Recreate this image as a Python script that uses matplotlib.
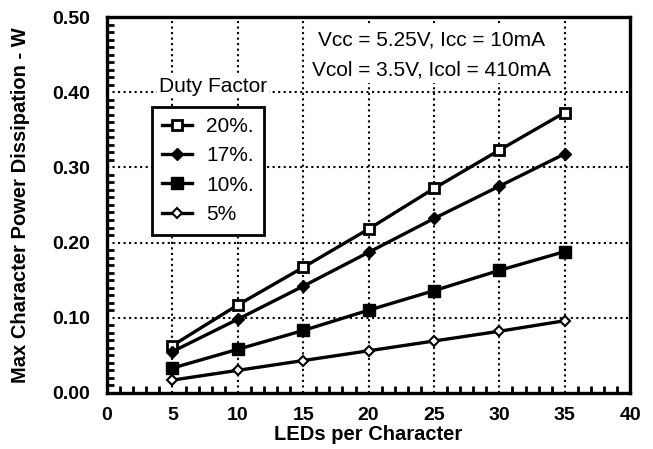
import matplotlib
matplotlib.use("Agg")
import matplotlib.pyplot as plt
from matplotlib.ticker import MultipleLocator

plt.rcParams["font.family"] = ["Liberation Sans", "DejaVu Sans"]
plt.rcParams["font.weight"] = "bold"

leds = [5, 10, 15, 20, 25, 30, 35]
duty_20 = [0.063, 0.117, 0.167, 0.218, 0.272, 0.323, 0.373]
duty_17 = [0.055, 0.098, 0.142, 0.187, 0.232, 0.275, 0.318]
duty_10 = [0.033, 0.058, 0.083, 0.110, 0.136, 0.163, 0.188]
duty_5 = [0.017, 0.030, 0.043, 0.056, 0.069, 0.082, 0.096]
labels = ["20%.", "17%.", "10%.", "5%"]

fig = plt.figure(figsize=(6.53, 4.49), dpi=100)
ax = fig.add_axes([0.164, 0.125, 0.801, 0.837])

series = [
    (duty_20, dict(marker="s", markersize=7, markerfacecolor="white", markeredgewidth=2)),
    (duty_17, dict(marker="D", markersize=6, markerfacecolor="black", markeredgewidth=1)),
    (duty_10, dict(marker="s", markersize=8, markerfacecolor="black", markeredgewidth=1)),
    (duty_5, dict(marker="D", markersize=5, markerfacecolor="white", markeredgewidth=1.5)),
]
for (vals, style), lab in zip(series, labels):
    ax.plot(leds, vals, color="black", linewidth=2.4, markeredgecolor="black",
            label=lab, zorder=3, **style)

ax.set_xlim(0, 40)
ax.set_ylim(0, 0.5)
ax.xaxis.set_major_locator(MultipleLocator(5))
ax.xaxis.set_minor_locator(MultipleLocator(1))
ax.yaxis.set_major_locator(MultipleLocator(0.1))
ax.yaxis.set_minor_locator(MultipleLocator(0.01))
ax.yaxis.set_major_formatter(plt.FuncFormatter(lambda v, p: f"{v:.2f}"))
ax.tick_params(which="both", direction="in", width=2, top=False, right=False)
ax.tick_params(which="major", length=0, labelsize=14)
ax.tick_params(axis="y", which="major", pad=12)
ax.tick_params(axis="x", which="major", pad=10)
ax.tick_params(which="minor", length=5)
for lbl in ax.get_xticklabels() + ax.get_yticklabels():
    lbl.set_fontweight("bold")
ax.grid(True, which="major", color="black", linestyle=":", linewidth=1.5)
for s in ax.spines.values():
    s.set_linewidth(2.4)

ax.set_xlabel("LEDs per Character", fontsize=14.5, fontweight="bold", labelpad=1)
ax.set_ylabel("Max Character Power Dissipation - W", fontsize=14.5, fontweight="bold", labelpad=16)

leg = ax.legend(loc="upper left", bbox_to_anchor=(0.086, 0.762), fontsize=15,
                frameon=True, fancybox=False, edgecolor="black", handlelength=1.4,
                borderpad=0.5, labelspacing=0.5, handletextpad=0.7,
                borderaxespad=0)
leg.get_frame().set_linewidth(2)
leg.get_frame().set_alpha(1)
for t in leg.get_texts():
    t.set_fontweight("normal")
ax.text(0.202, 0.815, "Duty Factor", transform=ax.transAxes, fontsize=15,
        ha="center", va="center", fontweight="normal",
        bbox=dict(facecolor="white", edgecolor="none", pad=1.5))

ax.text(0.621, 0.9, "Vcc = 5.25V, Icc = 10mA\nVcol = 3.5V, Icol = 410mA",
        transform=ax.transAxes, fontsize=15, ha="center", va="center",
        fontweight="normal", linespacing=1.75,
        bbox=dict(facecolor="white", edgecolor="none", pad=3))

fig.savefig("out.png", dpi=100)
